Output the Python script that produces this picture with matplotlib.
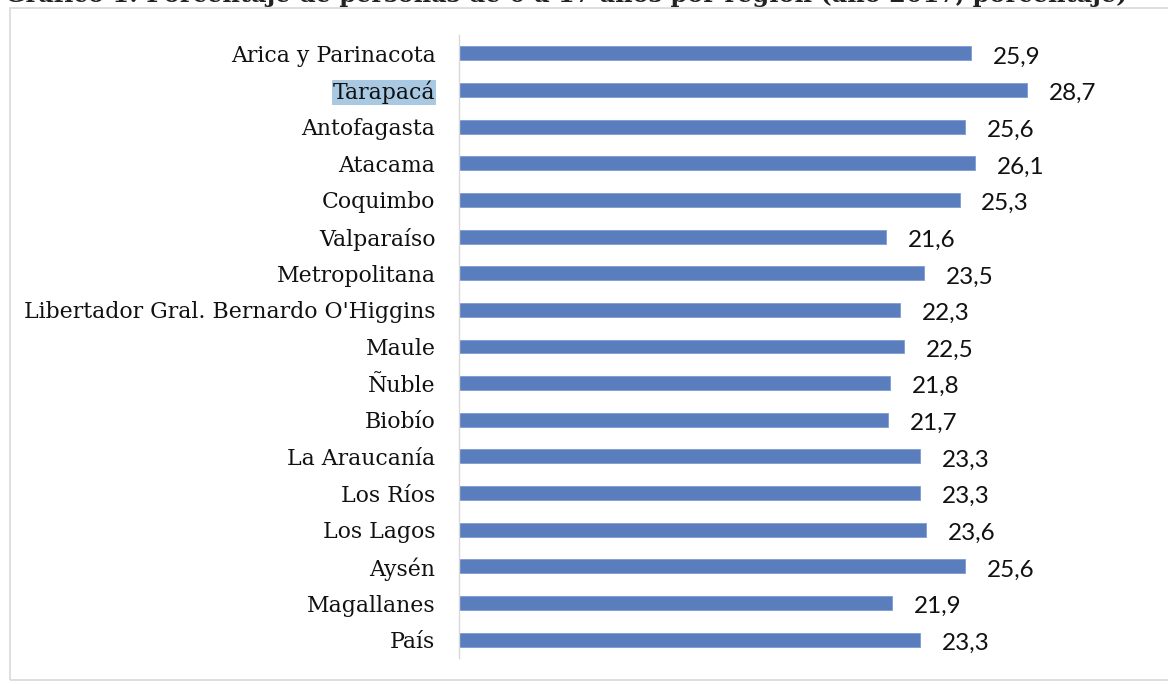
import matplotlib.pyplot as plt
from matplotlib.patches import Rectangle

# Data
regiones = ['Arica y Parinacota', 'Tarapacá', 'Antofagasta', 'Atacama', 'Coquimbo',
            'Valparaíso', 'Metropolitana', "Libertador Gral. Bernardo O'Higgins",
            'Maule', 'Ñuble', 'Biobío', 'La Araucanía', 'Los Ríos', 'Los Lagos',
            'Aysén', 'Magallanes', 'País']
porcentajes = [25.9, 28.7, 25.6, 26.1, 25.3, 21.6, 23.5, 22.3, 22.5, 21.8, 21.7,
               23.3, 23.3, 23.6, 25.6, 21.9, 23.3]
titulo = 'Gráfico 1: Porcentaje de personas de 0 a 17 años por región (año 2017, porcentaje)'

fig = plt.figure(figsize=(11.68, 6.84), dpi=100)
fig.patch.set_facecolor('white')

# outer frame (partly outside the picture, as in the crop)
fig.patches.append(Rectangle((10 / 1168, 4 / 684), 1.2, 672 / 684, transform=fig.transFigure,
                             fill=False, edgecolor='#d9d9d9', linewidth=1.2))

# cut-off title at the very top
fig.text(0.004, 1 - 2 / 684, titulo, fontsize=17.3, fontweight='bold', family='DejaVu Serif',
         va='baseline', ha='left', color='#222222')

ax = fig.add_axes([459 / 1168, 1 - 658 / 684, (1100 - 459) / 1168, (658 - 35) / 684])
y = list(range(len(regiones)))
ax.barh(y, porcentajes, height=0.38, color='#5a7dbd', edgecolor='#7f9bd0', linewidth=0.6)
ax.set_ylim(len(regiones) - 0.5, -0.5)
ax.set_xlim(0, 32.4)

ax.set_yticks(y)
ax.set_yticklabels(regiones, fontsize=15.8, family='DejaVu Serif', color='#111111')
ax.tick_params(axis='y', length=0, pad=17)
ax.set_xticks([])

for lbl in ax.get_yticklabels():
    if lbl.get_text() == 'Tarapacá':
        lbl.set_bbox(dict(facecolor='#a9c9e2', edgecolor='none', pad=0.5))

for yi, v in zip(y, porcentajes):
    ax.text(v + 1.1, yi + 0.1, f'{v:.1f}'.replace('.', ','), va='center', ha='left',
            fontsize=17.5, family='Lato', color='#111111')

for s in ['top', 'right', 'bottom']:
    ax.spines[s].set_visible(False)
ax.spines['left'].set_color('#d9d9d9')
ax.spines['left'].set_linewidth(1.0)

fig.savefig('out.png', dpi=100)
